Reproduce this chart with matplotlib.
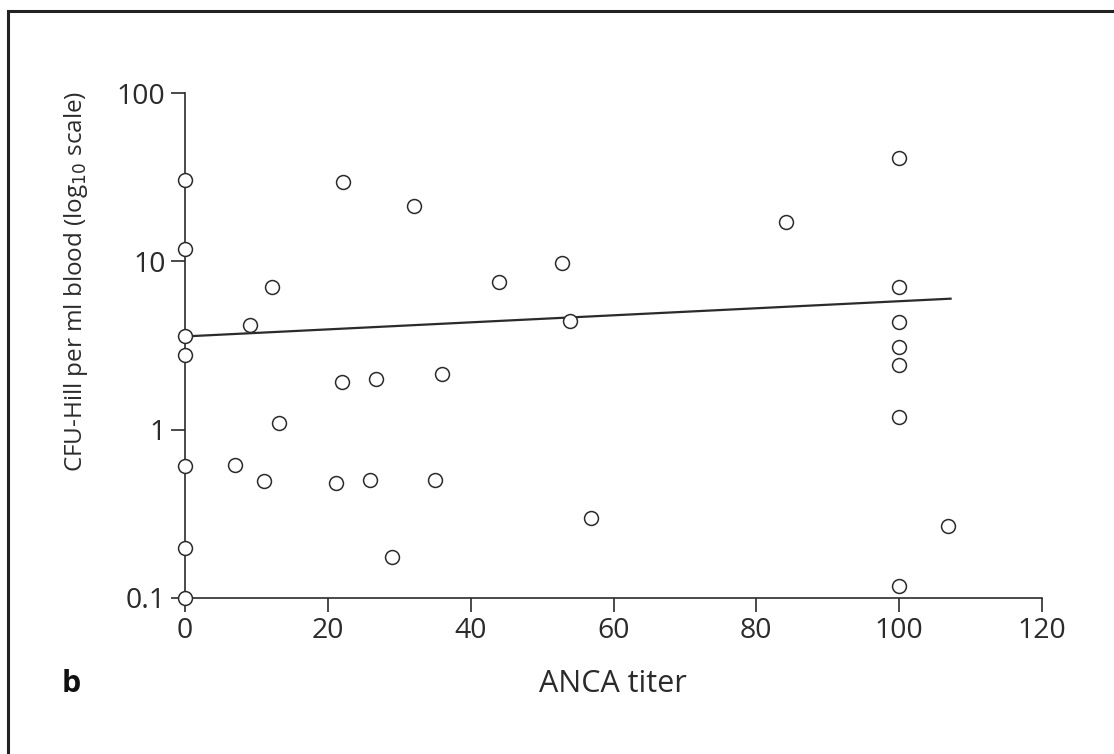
import numpy as np
import matplotlib
matplotlib.use("Agg")
import matplotlib.pyplot as plt
from matplotlib.patches import Rectangle

# ANCA titer vs CFU-Hill per ml blood
anca_titer = [0, 0, 0, 0, 0, 0, 0,
              9.1, 12.2, 22.1, 32.1, 43.9, 52.8, 53.9,
              22.0, 26.8, 36.0, 13.1, 7.0, 11.0, 21.1, 25.9, 35.0, 29.0, 56.8,
              100, 84.1, 100, 100, 100, 100, 100, 100, 106.8]
cfu_hill = [30.5, 11.9, 3.6, 2.78, 0.61, 0.198, 0.1,
            4.19, 7.08, 29.8, 21.4, 7.58, 9.83, 4.44,
            1.91, 2.0, 2.13, 1.10, 0.62, 0.498, 0.48, 0.50, 0.50, 0.176, 0.297,
            41.1, 17.1, 7.05, 4.35, 3.09, 2.43, 1.19, 0.118, 0.266]

# regression line end points
fit_x = [0, 107.2]
fit_y = [3.58, 6.0]

xticks = [0, 20, 40, 60, 80, 100, 120]
yticks = [0.1, 1, 10, 100]
ytick_labels = ["0.1", "1", "10", "100"]

plt.rcParams['font.family'] = ['Open Sans', 'DejaVu Sans']
ink = '#2b2b2b'
W, H = 1114, 754

fig = plt.figure(figsize=(W / 100, H / 100), dpi=100)
ax = fig.add_axes([185 / W, 1 - 598 / H, (1042 - 185) / W, (598 - 93) / H])

ax.plot(fit_x, fit_y, color=ink, lw=1.6, clip_on=False)
ax.plot(anca_titer, cfu_hill, 'o', ms=10, mfc='white', mec=ink, mew=1.1,
        clip_on=False, zorder=5)

ax.set_yscale('log')
ax.set_xlim(0, 120)
ax.set_ylim(0.1, 100)
ax.set_xticks(xticks)
ax.set_yticks(yticks)
ax.set_yticklabels(ytick_labels)
ax.yaxis.set_minor_locator(matplotlib.ticker.NullLocator())

for side in ['top', 'right']:
    ax.spines[side].set_visible(False)
for side in ['left', 'bottom']:
    ax.spines[side].set_color(ink)
    ax.spines[side].set_linewidth(1.2)
ax.tick_params(direction='out', length=10, width=1.2, color=ink,
               labelsize=20.5, labelcolor=ink, pad=4)

# axis titles placed by pixel position from the reference
fig.text(613 / W, 1 - 692 / H, 'ANCA titer', fontsize=22, color=ink,
         ha='center', va='baseline')
fig.text(76 / W, 1 - 281 / H, 'CFU-Hill per ml blood (log$_{10}$ scale)',
         fontsize=17.5, color=ink, rotation=90, ha='center', va='center')
fig.text(62 / W, 1 - 692 / H, 'b', fontsize=22, fontweight='bold',
         color='#111111', ha='left', va='baseline')

# frame around the panel (runs off the right and bottom edges)
fig.add_artist(Rectangle((8 / W, -0.05), 1.1, 1 - 11 / H + 0.05,
                         transform=fig.transFigure, fill=False,
                         ec='#222222', lw=2.2))

fig.savefig('out.png', dpi=100, facecolor='white')
